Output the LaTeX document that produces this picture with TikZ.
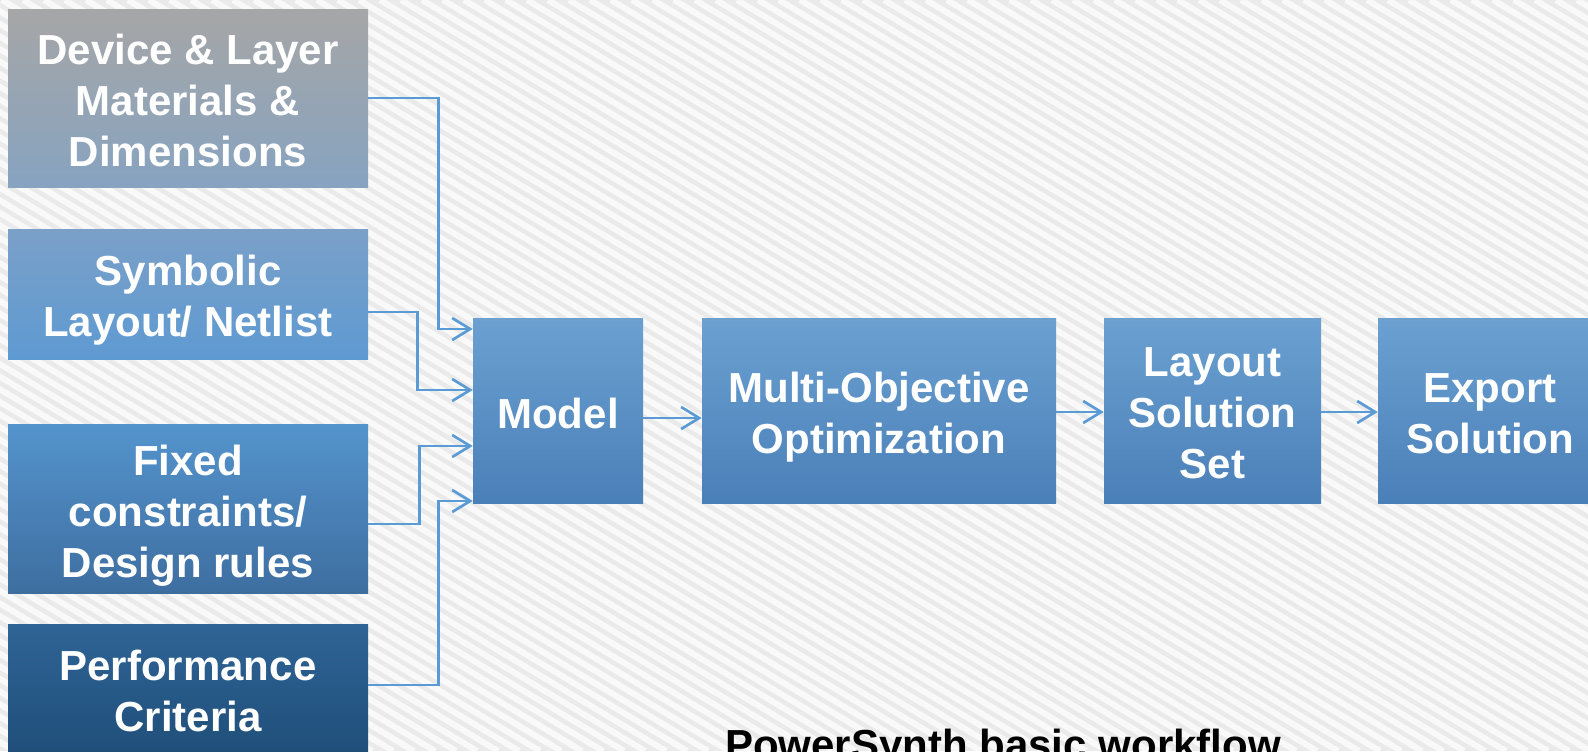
\documentclass[tikz,border=0pt]{standalone}
\usepackage{fontspec}
\setmainfont{Liberation Sans}
\usetikzlibrary{arrows.meta,calc}

\definecolor{bgfill}{HTML}{EAEAEA}
\definecolor{linkblue}{HTML}{5B9BD5}
\definecolor{midtop}{HTML}{6BA0D1}
\definecolor{midmid}{HTML}{5B9BD5}
\definecolor{midbot}{HTML}{4A80B8}

\tikzset{
  box/.style={rectangle, inner sep=0pt},
  inputbox/.style={box, minimum width=270pt},
  stagebox/.style={box, minimum height=138.75pt,
    top color=midtop, middle color=midmid, bottom color=midbot},
  boxtext/.style={inner sep=0pt, text=white, align=center,
    font=\fontsize{31.5}{38.25}\selectfont\bfseries},
  flow/.style={draw=linkblue, line width=2pt,
    -{Straight Barb[length=13.5pt,width=16.5pt,line width=2pt]}},
  stripe/.style={white, line width=4.5pt, opacity=0.75},
}

\begin{document}
\begin{tikzpicture}[x=0.75pt,y=-0.75pt]
  % frame and striped backdrop
  \useasboundingbox (0,0) rectangle (1588,751);
  \clip (0,0) rectangle (1588,751);
  \fill[bgfill] (0,0) rectangle (1588,751);
  \foreach \k in {0,...,140}
    \draw[stripe] ({-1300+\k*21},0) -- ++(1252,751);

  % input boxes on the left
  \node[inputbox, minimum height=133.5pt,
        top color={rgb,255:red,166;green,166;blue,166},
        bottom color={rgb,255:red,135;green,163;blue,192}]
    (b1) at (188,98) {};
  \node[inputbox, minimum height=97.5pt,
        top color={rgb,255:red,122;green,160;blue,200},
        bottom color={rgb,255:red,94;green,154;blue,210}]
    (b2) at (188,294) {};
  \node[inputbox, minimum height=126.75pt,
        top color={rgb,255:red,84;green,148;blue,205},
        bottom color={rgb,255:red,62;green,110;blue,160}]
    (b3) at (188,508.5) {};
  \node[inputbox, minimum height=99pt,
        top color={rgb,255:red,47;green,100;blue,150},
        bottom color={rgb,255:red,31;green,78;blue,121}]
    (b4) at (188,690) {};

  \node[boxtext] (t1) at ($(b1.center)+(0,2)$) {Device \& Layer\\Materials \&\\Dimensions};
  \node[boxtext] (t2) at ($(b2.center)+(0,6)$) {Symbolic\\Layout/ Netlist};
  \node[boxtext] (t3) at ($(b3.center)+(0,7)$) {Fixed\\constraints/\\Design rules};
  \node[boxtext] (t4) at ($(b4.center)+(0,1)$) {Performance\\Criteria};

  % processing stages
  \node[stagebox, minimum width=127.5pt] (m)  at (558,410.5) {};
  \node[stagebox, minimum width=265.5pt] (mo) at (879,410.5) {};
  \node[stagebox, minimum width=162.75pt] (ls) at (1212.5,410.5) {};
  \node[stagebox, minimum width=168pt] (ex) at (1490,410.5) {};

  \node[boxtext] (tm)  at ($(m.center)+(0,3)$)  {Model};
  \node[boxtext] (tmo) at ($(mo.center)+(0,6.5)$) {Multi-Objective\\Optimization};
  \node[boxtext] (tls) at ($(ls.center)+(0,3)$) {Layout\\Solution\\Set};
  \node[boxtext] (tex) at ($(ex.center)+(0,3)$) {Export\\Solution};

  % entry points on the model box
  \coordinate (in1) at ($(m.west)+(0,-81.5)$);
  \coordinate (in2) at ($(m.west)+(0,-20.5)$);
  \coordinate (in3) at ($(m.west)+(0,35.5)$);
  \coordinate (in4) at ($(m.west)+(0,90.5)$);

  % inputs feeding the model
  \draw[flow] (b1.east) -| ($(in1)+(-34,0)$) -- (in1);
  \draw[flow] ($(b2.east)+(0,18)$) -| ($(in2)+(-55,0)$) -- (in2);
  \draw[flow] ($(b3.east)+(0,15.5)$) -| ($(in3)+(-53,0)$) -- (in3);
  \draw[flow] ($(b4.east)+(0,-5)$) -| ($(in4)+(-34,0)$) -- (in4);

  % main pipeline
  \draw[flow] ($(m.east)+(0,7.5)$) -- ($(mo.west)+(0,7.5)$);
  \draw[flow] ($(mo.east)+(0,1.5)$) -- ($(ls.west)+(0,1.5)$);
  \draw[flow] ($(ls.east)+(0,1.5)$) -- ($(ex.west)+(0,1.5)$);

  % caption
  \node[anchor=base west, inner sep=0pt, text=black,
        font=\fontsize{31.5}{38.25}\selectfont\bfseries]
    (cap) at (725,759) {PowerSynth basic workflow};
\end{tikzpicture}
\end{document}
